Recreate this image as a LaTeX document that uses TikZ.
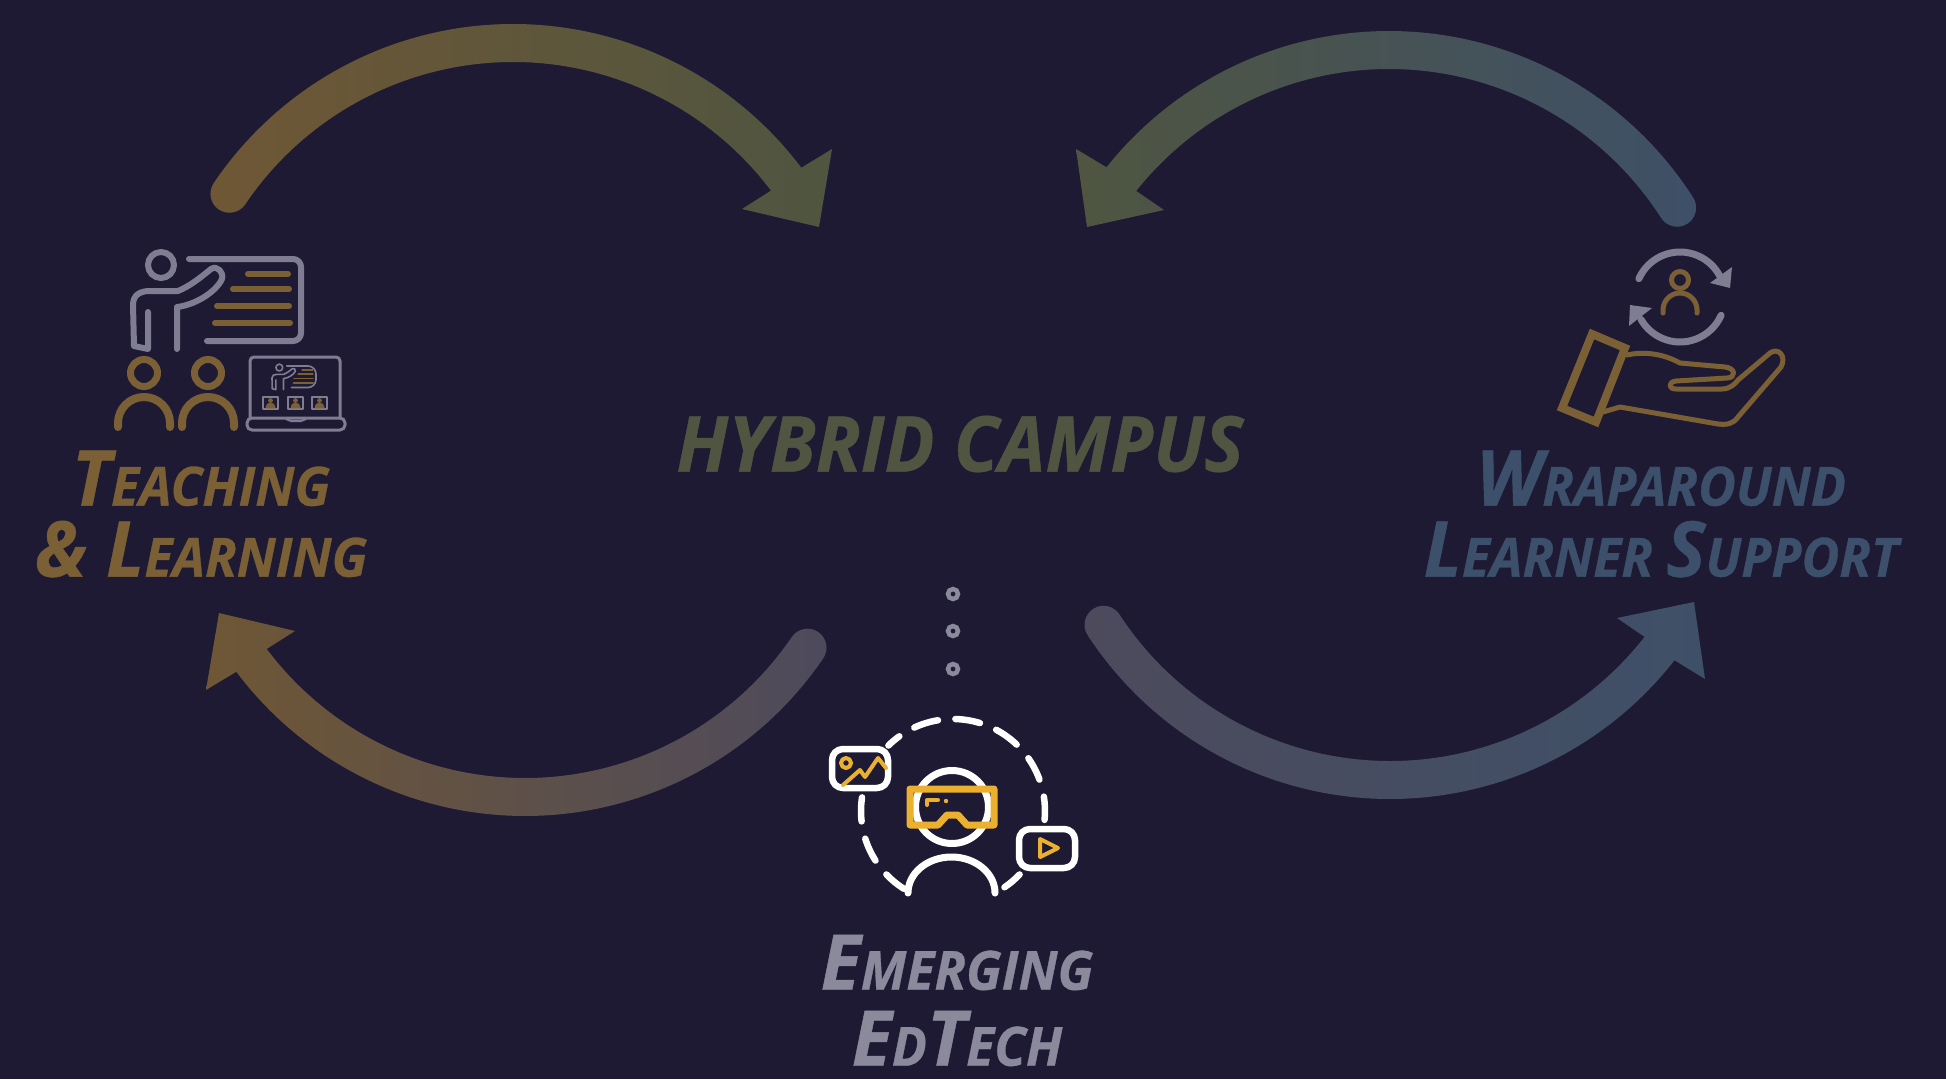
\documentclass[tikz,border=0pt]{standalone}
\usepackage{fontspec}
\setmainfont{Open Sans}
\newfontfamily\labelfont[FakeStretch=0.96,FakeBold=0.6]{Open Sans}
\usetikzlibrary{positioning}

\definecolor{bgnavy}{HTML}{1E1A34}
\definecolor{brownish}{HTML}{7B6035}
\definecolor{arcbrown}{HTML}{6F5735}
\definecolor{olive}{HTML}{4F5540}
\definecolor{slateblue}{HTML}{3E5068}
\definecolor{slatetext}{HTML}{3C506C}
\definecolor{dimgrey}{HTML}{4D4A5C}
\definecolor{iconfog}{HTML}{7E7D91}
\definecolor{textfog}{HTML}{8B8A9C}
\definecolor{amber}{HTML}{ECB02F}

\newcommand{\bigc}[1]{{\fontsize{77}{71}\selectfont #1}}

\newcommand{\sweeparrow}[7]{
  \begin{scope}[shift={(#1)}]
    \shade[left color=#2,right color=#3] (#4:361) arc[start angle=#4,end angle=#5,radius=361]
      -- (#6A) -- (#6) -- (#6B) -- (#5:323) arc[start angle=#5,end angle=#4,radius=323]
      arc[start angle=#4-(#7)*180,delta angle=(#7)*180,radius=19] -- cycle;
  \end{scope}
}

\tikzset{
  teacherpic/.pic={
    \draw[iconline] (28,6) circle (13);
    \draw[iconline,rounded corners=8] (56,0) -- (168,0) -- (168,82) -- (74,82);
    \draw[iconline] (15,53) -- (15,90) -- (1,87) -- (0,46)
      .. controls (0,36) and (7,32) .. (17,32) -- (45,32)
      .. controls (57,27) and (67,19) .. (78,10)
      .. controls (84,6) and (91,13) .. (89,20)
      .. controls (83,33) and (62,46) .. (44,48) -- (44,90);
    \draw[accentline] (115,15) -- (155,15);
    \draw[accentline] (100,30) -- (156,30);
    \draw[accentline] (84,47) -- (156,47);
    \draw[accentline] (82,64) -- (157,64);
  }
}

\begin{document}
\begin{tikzpicture}[x=1pt,y=-1pt]
  \tikzstyle{iconline} = [draw=iconfog,line cap=round,line join=round]
  \tikzstyle{accentline} = [draw=brownish,line cap=round,line join=round]
  \tikzstyle{labeltext} = [align=center,inner sep=0pt,font=\labelfont\bfseries\itshape\fontsize{54}{71}\selectfont]
  \tikzstyle{whiteline} = [draw=white,line width=6.5,line cap=round,line join=round]
  \tikzstyle{amberline} = [draw=amber,line width=4,line cap=round,line join=round]

  \fill[bgnavy] (0,0) rectangle (1946,1079);
  \useasboundingbox (0,0) rectangle (1946,1079);

  \coordinate (hubLeft) at (819,227);
  \coordinate (hubLeftA) at (832,149);
  \coordinate (hubLeftB) at (742,209);
  \coordinate (hubRight) at (1087,227);
  \coordinate (hubRightA) at (1076,149);
  \coordinate (hubRightB) at (1164,210);
  \coordinate (teachIn) at (219,613);
  \coordinate (teachInA) at (206,690);
  \coordinate (teachInB) at (295,631);
  \coordinate (wrapIn) at (1694,602);
  \coordinate (wrapInA) at (1705,679);
  \coordinate (wrapInB) at (1617,618);

  \sweeparrow{513,385}{arcbrown}{olive}{214}{323}{hubLeft}{1}
  \sweeparrow{1389,392}{olive}{slateblue}{327.4}{218.5}{hubRight}{-1}
  \sweeparrow{525,455}{arcbrown}{dimgrey}{34.3}{143.1}{teachIn}{1}
  \sweeparrow{1390,438}{dimgrey}{slateblue}{146.9}{38}{wrapIn}{-1}

  \node[labeltext,text=olive,font=\labelfont\bfseries\itshape\fontsize{77}{71}\selectfont] (hub) at (960,444) {HYBRID CAMPUS};
  \node[labeltext,text=brownish] (teach) at (201,514) {\bigc{T}EACHING\\\bigc{\& L}EARNING};
  \node[labeltext,text=slatetext] (wrap) at (1661,514) {\bigc{W}RAPAROUND\\\bigc{L}EARNER \bigc{S}UPPORT};
  \node[labeltext,text=textfog] (edtech) at (957,1000.5) {\bigc{E}MERGING\\[5pt]\bigc{E}D\bigc{T}ECH};

  \pic[line width=6] (bigteacher) at (133,259) {teacherpic};
  \foreach \x in {144,208} {
    \draw[accentline,line width=7] (\x,373) circle (13.5);
    \draw[accentline,line width=8] (\x-26,427) -- (\x-26,423) arc[start angle=180,end angle=360,radius=26] -- (\x+26,427);
  }
  \draw[iconline,line width=3,rounded corners=4] (250,418) -- (250,357) -- (340,357) -- (340,418);
  \draw[iconline,line width=3,rounded corners=5] (247,418) -- (345,418) -- (345,430) -- (247,430) -- cycle;
  \draw[iconline,line width=2] (286,419) -- (291,421) -- (301,421) -- (306,419);
  \pic[line width=1.6,scale=.262] (minTeacher) at (272,366) {teacherpic};
  \foreach \x in {263,288,312} {
    \draw[iconline,line width=1.3,line cap=butt] (\x,397) rectangle (\x+15,409);
    \fill[brownish] (\x+7.5,400.5) circle (2.4);
    \fill[brownish] (\x+2.5,408.3) -- (\x+2.5,407.5) arc[start angle=180,end angle=360,radius=5] -- (\x+12.5,408.3) -- cycle;
  }

  \coordinate (loopHub) at (1680,297);
  \begin{scope}[shift={(loopHub)}]
    \draw[iconline,line width=7] (204:45) arc[start angle=204,end angle=332,radius=45];
    \draw[iconline,line width=7] (24:45) arc[start angle=24,end angle=150,radius=45];
  \end{scope}
  \fill[iconfog] (1732,267) -- (1730,288) -- (1710,283) -- cycle;
  \fill[iconfog] (1630,305) -- (1652,308) -- (1629,326) -- cycle;
  \draw[accentline,line width=5] (1680,280) circle (8.5);
  \draw[accentline,line width=5] (1663,313) -- (1663,310) arc[start angle=180,end angle=360,radius=17] -- (1697,313);
  \draw[accentline,line width=8,line join=miter] (1592,334) -- (1625,348) -- (1596,422) -- (1562,408) -- cycle;
  \draw[accentline,line width=5] (1627,355) .. controls (1640,352) and (1660,352) .. (1680,363)
    -- (1725,367) .. controls (1736,368) and (1736,378) .. (1727,378)
    -- (1676,381) .. controls (1668,382) and (1668,389) .. (1676,389)
    -- (1722,389) .. controls (1730,389) and (1735,384) .. (1738,380)
    -- (1770,353) .. controls (1778,347) and (1787,356) .. (1781,367)
    -- (1738,417) .. controls (1733,424) and (1727,425) .. (1718,424)
    -- (1620,407) -- (1603,412);

  \foreach \y in {594,631,669}
    \draw[draw=textfog,line width=4.5] (953,\y) circle (5);

  \coordinate (ringHub) at (953,811);
  \begin{scope}[shift={(ringHub)}]
    \foreach \a/\b in {225.4/234.3,245.1/260.6,271.5/287,298/313.8,325/340,351/365.5,43.6/56,122.3/136.4,147.4/162.5,173.5/188.5}
      \draw[whiteline] (\a:92) arc[start angle=\a,end angle=\b,radius=92];
  \end{scope}
  \draw[whiteline,line width=7] (952,807) circle (36.5);
  \draw[whiteline,line width=7] (908,893) arc[start angle=180,end angle=360,x radius=43.5,y radius=36];
  \draw[draw=amber,line width=7,line join=round] (938,825) -- (910,825) -- (910,789) -- (994,789) -- (994,825) -- (967,825) -- (958,815) -- (947,815) -- cycle;
  \draw[amberline] (927,805) -- (927,800) -- (938,800);
  \fill[amber] (946,801) circle (2.2);
  \draw[whiteline,rounded corners=11] (832,749) rectangle (888,788);
  \draw[amberline] (846,763) circle (5);
  \draw[amberline] (843,785) -- (860,770) -- (865,777) -- (878,758) -- (886,768);
  \draw[whiteline,rounded corners=11] (1019,829) rectangle (1075,868);
  \draw[amberline] (1040,839) -- (1058,848) -- (1040,857) -- cycle;
\end{tikzpicture}
\end{document}
